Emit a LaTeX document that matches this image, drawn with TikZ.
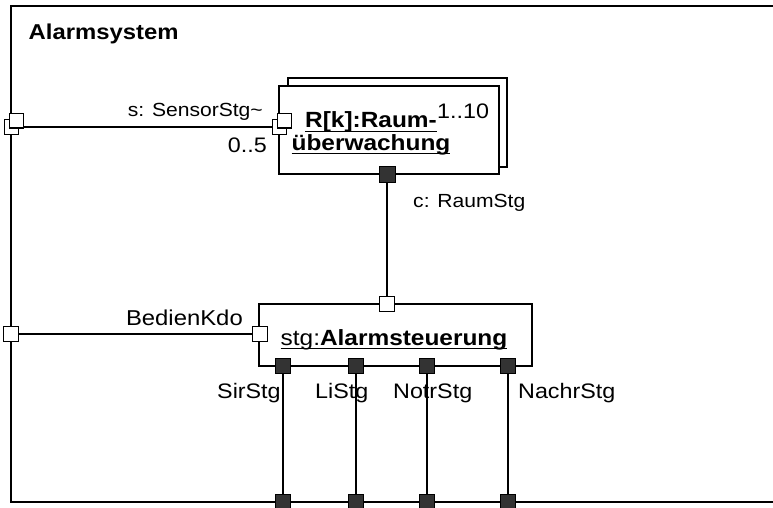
\documentclass[tikz,border=0pt]{standalone}
\usepackage{fontspec}
\setmainfont{Liberation Sans}[FakeStretch=1.11]
\usetikzlibrary{backgrounds}
% underline at a fixed depth below the baseline
\newcommand{\ulined}[1]{\leavevmode\setbox0=\hbox{#1}\rlap{\rule[-4.2pt]{\wd0}{1.4pt}}\box0}

\begin{document}
\begin{tikzpicture}[x=1pt,y=-1pt,
  line width=1.3pt,
  lbl/.style={inner sep=0pt, font=\fontsize{21}{22}\selectfont},
  conn/.style={inner sep=0pt, font=\fontsize{19}{20}\selectfont},
  ttl/.style={inner sep=0pt, font=\fontsize{21.5}{22}\selectfont\bfseries},
  pname/.style={inner sep=0pt, font=\fontsize{22}{22}\selectfont\bfseries},
  part/.style={draw, fill=white, inner sep=0pt},
  wport/.style={draw, fill=white, inner sep=0pt, minimum size=14pt, line width=1pt},
  bport/.style={draw, fill=black!80, inner sep=0pt, minimum size=15pt, line width=1pt},
  wire/.style={draw, line width=1.4pt}]
\useasboundingbox (0,0) rectangle (773,508);

% enclosing frame, open to the right
\draw[line width=1.6pt] (773,6) -- (11,6) -- (11,502) -- (773,502);
\node[ttl, anchor=base west] (title) at (28,40) {Alarmsystem};

% parts
\node[part, minimum width=219pt, minimum height=89pt] (rback) at (397.5,122.5) {};
\node[part, minimum width=220pt, minimum height=88pt] (rfront) at (389,130) {};
\node[part, minimum width=273pt, minimum height=62pt] (steu) at (395.5,335) {};

% multiple ports for the sensor interface
\node[wport] (fsB) at (11,127) {};
\node[wport] (fsF) at (16,121) {};
\node[wport] (rsB) at (279.5,127) {};
\node[wport] (rsF) at (284.5,121) {};

% other ports
\node[bport, minimum size=16pt] (rc) at (387,174) {};
\node[wport, minimum size=15pt] (st) at (387,304) {};
\node[wport, minimum size=15pt] (sl) at (260,334) {};
\node[wport, minimum size=15pt] (fb) at (11,334) {};
\node[bport] (s1) at (283,366) {};
\node[bport] (s2) at (356,366) {};
\node[bport] (s3) at (427,366) {};
\node[bport] (s4) at (508,366) {};
\node[bport] (f1) at (283,502) {};
\node[bport] (f2) at (356,502) {};
\node[bport] (f3) at (427,502) {};
\node[bport] (f4) at (508,502) {};

% connectors
\begin{pgfonlayer}{background}
\draw[wire] (fsB.center) -- (rsB.center);
\draw[wire] (fb.center) -- (sl.center);
\end{pgfonlayer}
\draw[wire] (rc) -- (st);
\draw[wire] (s1) -- (f1);
\draw[wire] (s2) -- (f2);
\draw[wire] (s3) -- (f3);
\draw[wire] (s4) -- (f4);

% labels
\node[conn, anchor=base east] (lsens) at (263,117) {s: SensorStg\textasciitilde};
\node[lbl, anchor=base east] (lmult) at (267,152) {0..5};
\node[lbl, anchor=base west] (rmult) at (437,118) {1..10};
\node[pname, anchor=base] (rname1) at (371,128) {\ulined{R[k]:Raum-}};
\node[pname, anchor=base] (rname2) at (371,150) {\ulined{überwachung}};
\node[conn, anchor=base west] (lc) at (413,207) {c: RaumStg};
\node[lbl, anchor=base east, font=\fontsize{21.5}{22}\selectfont] (lbed) at (243,325) {BedienKdo};
\node[lbl, anchor=base, font=\fontsize{22}{23}\selectfont] (sname) at (394,345) {\ulined{stg:\textbf{Alarmsteuerung}}};
\node[lbl, anchor=base west] (l1) at (217,398) {SirStg};
\node[lbl, anchor=base west] (l2) at (315,398) {LiStg};
\node[lbl, anchor=base west] (l3) at (393,398) {NotrStg};
\node[lbl, anchor=base west] (l4) at (518,398) {NachrStg};
\end{tikzpicture}
\end{document}
